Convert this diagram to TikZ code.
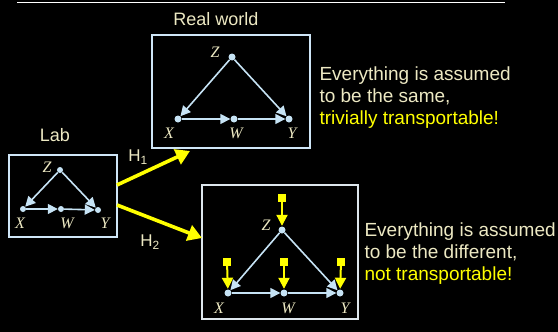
\documentclass[tikz,border=0pt]{standalone}
\usepackage{fontspec}
\setmainfont{Liberation Sans}
\newfontfamily\varfont{Liberation Serif}
\usetikzlibrary{arrows.meta}
\definecolor{cream}{HTML}{EDE9C3}
\definecolor{nodeblue}{HTML}{C6E3F5}
\definecolor{boxblue}{HTML}{CFE6F7}
\definecolor{boxgray}{HTML}{DDE6EC}
\definecolor{hypyellow}{HTML}{FFFF00}

\begin{document}
\begin{tikzpicture}[
    x=1pt, y=-1pt,
    dot/.style={circle, fill=nodeblue, inner sep=0pt, minimum size=7pt},
    edge/.style={-{Triangle[length=10pt, width=10pt]}, nodeblue, line width=1.6pt},
    var/.style={font=\varfont\itshape\fontsize{16}{16}\selectfont, text=cream},
    frame/.style={draw=boxblue, line width=1.8pt, inner sep=0pt},
    hyp/.style={-{Triangle[length=14pt, width=16pt]}, hypyellow, line width=3.6pt},
    ext/.style={-{Triangle[length=11pt, width=11pt]}, hypyellow, line width=2pt, shorten >=0.5pt},
    extsq/.style={fill=hypyellow, inner sep=0pt, minimum size=7.5pt},
    txt/.style={font=\fontsize{19}{22}\selectfont, text=cream, align=left, anchor=north west}
]

% Background
\fill[black] (0,0) rectangle (558,332);
\useasboundingbox (0,0) rectangle (558,332);
\draw[white, line width=1pt] (17,2.5) -- (505,2.5);

% ---------------------------------------------------------
% LAB
% ---------------------------------------------------------
\node[frame, minimum width=108pt, minimum height=82pt] (lab) at (63,196) {};
\node[font=\fontsize{18}{18}\selectfont, text=cream] (labT) at (55,135) {Lab};

\node[dot, minimum size=6pt] (lZ) at (60,170) {};
\node[dot, minimum size=6pt] (lX) at (23,209) {};
\node[dot, minimum size=6pt] (lW) at (61,209) {};
\node[dot, minimum size=6pt] (lY) at (98,210) {};
\node[var] (lZl) at (47,167) {Z};
\node[var] (lXl) at (20,223) {X};
\node[var] (lWl) at (67,223) {W};
\node[var] (lYl) at (105,223) {Y};
\draw[edge] (lZ) -- (lX);
\draw[edge] (lZ) -- (lY);
\draw[edge] (lX) -- (lW);
\draw[edge] (lW) -- (lY);

% ---------------------------------------------------------
% REAL WORLD
% ---------------------------------------------------------
\node[frame, minimum width=158pt, minimum height=113pt] (real) at (231,91.5) {};
\node[font=\fontsize{18}{18}\selectfont, text=cream] (realT) at (216,19) {Real world};

\node[dot] (rZ) at (232,57) {};
\node[dot] (rX) at (178,119) {};
\node[dot] (rW) at (234,119) {};
\node[dot] (rY) at (289,119) {};
\node[var] (rZl) at (215,52) {Z};
\node[var] (rXl) at (169,133) {X};
\node[var] (rWl) at (236,133) {W};
\node[var] (rYl) at (292,133) {Y};
\draw[edge] (rZ) -- (rX);
\draw[edge] (rZ) -- (rY);
\draw[edge] (rX) -- (rW);
\draw[edge] (rW) -- (rY);

\node[txt] (sameT) at (316,63) {Everything is assumed\\to be the same,\\\textcolor{hypyellow}{trivially transportable!}};

% ---------------------------------------------------------
% OTHER POPULATION
% ---------------------------------------------------------
\node[frame, draw=boxgray, minimum width=156pt, minimum height=134pt] (diff) at (280,252) {};

\node[dot] (dZ) at (282,230) {};
\node[dot] (dX) at (228,293) {};
\node[dot] (dW) at (284,293) {};
\node[dot] (dY) at (340,293) {};
\node[var] (dZl) at (266,225) {Z};
\node[var] (dXl) at (219,308) {X};
\node[var] (dWl) at (288,308) {W};
\node[var] (dYl) at (345,308) {Y};
\draw[edge] (dZ) -- (dX);
\draw[edge] (dZ) -- (dY);
\draw[edge] (dX) -- (dW);
\draw[edge] (dW) -- (dY);

% exogenous differences
\node[extsq] (uZ) at (282,198) {};
\node[extsq] (uX) at (227,262) {};
\node[extsq] (uW) at (284,262) {};
\node[extsq] (uY) at (341,262) {};
\draw[ext] (uZ) -- (dZ);
\draw[ext] (uX) -- (dX);
\draw[ext] (uW) -- (dW);
\draw[ext] (uY) -- (dY);

\node[txt] (diffT) at (361,219) {Everything is assumed\\to be the different,\\\textcolor{hypyellow}{not transportable!}};

% ---------------------------------------------------------
% HYPOTHESES
% ---------------------------------------------------------
\coordinate (h1s) at (117,185);
\coordinate (h1e) at (190,151);
\coordinate (h2s) at (117,205);
\coordinate (h2e) at (202,238);
\draw[hyp] (h1s) -- (h1e);
\draw[hyp] (h2s) -- (h2e);
\node[font=\fontsize{17}{17}\selectfont, text=cream] (h1T) at (138,157) {H\textsubscript{1}};
\node[font=\fontsize{17}{17}\selectfont, text=cream] (h2T) at (150,242) {H\textsubscript{2}};

\end{tikzpicture}
\end{document}
